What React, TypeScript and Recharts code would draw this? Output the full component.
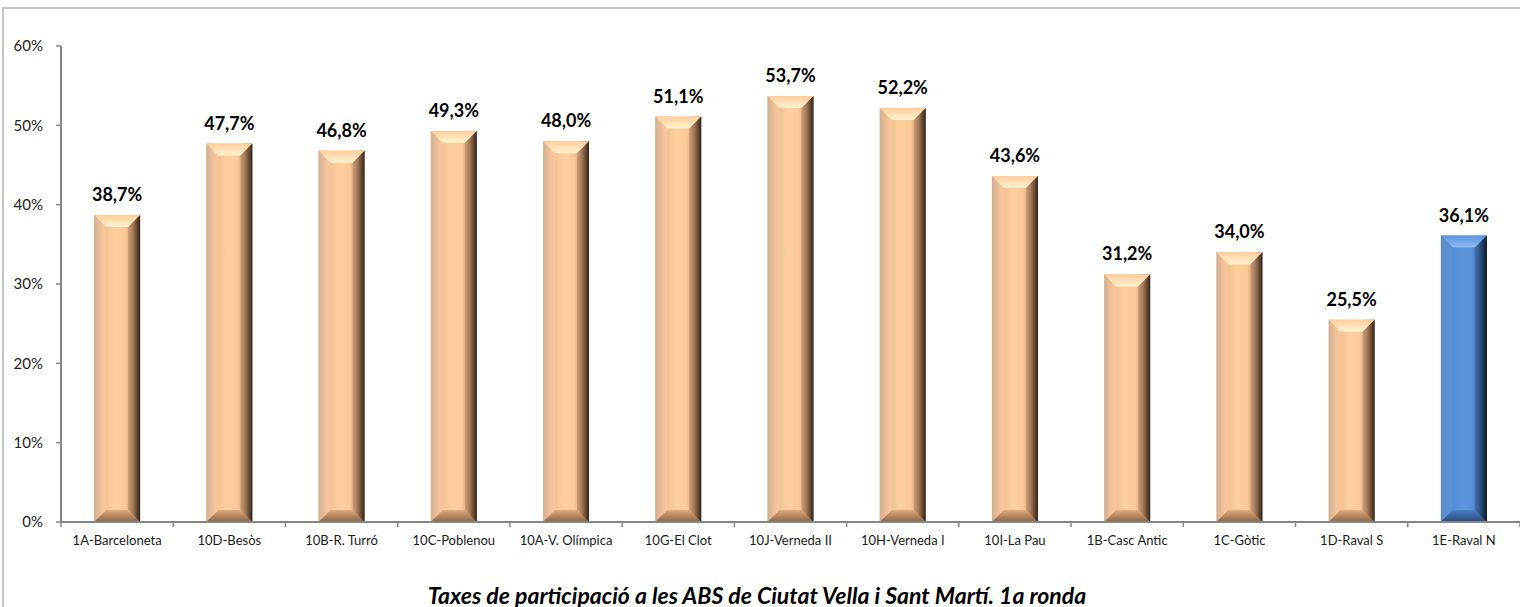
import React from "react";
import { BarChart, Bar, XAxis, YAxis, LabelList } from "recharts";

const areas = [
  "1A-Barceloneta",
  "10D-Besòs",
  "10B-R. Turró",
  "10C-Poblenou",
  "10A-V. Olímpica",
  "10G-El Clot",
  "10J-Verneda II",
  "10H-Verneda I",
  "10I-La Pau",
  "1B-Casc Antic",
  "1C-Gòtic",
  "1D-Raval S",
  "1E-Raval N",
];

const participation = [38.7, 47.7, 46.8, 49.3, 48.0, 51.1, 53.7, 52.2, 43.6, 31.2, 34.0, 25.5, 36.1];

const yTicks = [0, 10, 20, 30, 40, 50, 60];
const edgeTicks = [0, 1, 2, 3, 4, 5, 6, 7, 8, 9, 10, 11, 12, 13];
const highlighted = "1E-Raval N";

const data = areas.map((name, i) => ({ name, value: participation[i], pos: i + 0.5 }));

const FONT = "Lato, 'Open Sans', sans-serif";

const fmt = (v: number) => v.toFixed(1).replace(".", ",") + "%";

function BevelBar(props: any) {
  const { x, y, width, height, payload } = props;
  if (!height || height <= 0) return null;
  const blue = payload && payload.name === highlighted;
  const p = blue ? "b" : "o";
  const b = Math.min(12, width / 3, height / 2);
  return (
    <g>
      <rect x={x} y={y} width={width} height={height} fill={`url(#side-${p})`} />
      <polygon
        points={`${x},${y} ${x + width},${y} ${x + width - b},${y + b} ${x + b},${y + b}`}
        fill={`url(#top-${p})`}
      />
      <polygon
        points={`${x},${y} ${x + b},${y + b} ${x + b},${y + height - b} ${x},${y + height}`}
        fill={`url(#lside-${p})`}
        opacity={0.35}
      />
      <polygon
        points={`${x + width},${y} ${x + width - b},${y + b} ${x + width - b},${y + height - b} ${x + width},${y + height}`}
        fill={`url(#rside-${p})`}
        opacity={0.45}
      />
      <polygon
        points={`${x + b},${y + height - b} ${x + width - b},${y + height - b} ${x + width},${y + height} ${x},${y + height}`}
        fill={`url(#bot-${p})`}
      />
    </g>
  );
}

const NoLabel = () => <g />;

export default function App() {
  return (
    <div style={{ position: "relative", width: 1520, height: 607, overflow: "hidden", background: "#fff" }}>
      <style>{"body{margin:0}"}</style>
      <div
        style={{
          position: "absolute",
          left: 2,
          top: 7,
          width: 1560,
          height: 700,
          border: "2px solid #c4c4c4",
          boxSizing: "border-box",
        }}
      />
      <div style={{ position: "absolute", left: 0, top: 0 }}>
        <BarChart
          width={1520}
          height={607}
          data={data}
          margin={{ top: 46, right: 0, bottom: 54, left: 0 }}
          barCategoryGap="29.5%"
        >
          <defs>
            <linearGradient id="side-o" x1="0" y1="0" x2="1" y2="0">
              <stop offset="0" stopColor="#b88c6c" />
              <stop offset="0.18" stopColor="#efb990" />
              <stop offset="0.45" stopColor="#ffd09f" />
              <stop offset="0.68" stopColor="#fcc898" />
              <stop offset="0.84" stopColor="#c8966e" />
              <stop offset="1" stopColor="#3a2818" />
            </linearGradient>
            <linearGradient id="top-o" x1="0" y1="0" x2="0" y2="1">
              <stop offset="0" stopColor="#ffcc9c" />
              <stop offset="1" stopColor="#fff4cc" />
            </linearGradient>
            <linearGradient id="lside-o" x1="0" y1="0" x2="1" y2="0">
              <stop offset="0" stopColor="#fff0d0" />
              <stop offset="1" stopColor="#ffd0a0" />
            </linearGradient>
            <linearGradient id="rside-o" x1="0" y1="0" x2="1" y2="0">
              <stop offset="0" stopColor="#b08060" />
              <stop offset="1" stopColor="#2a1c10" />
            </linearGradient>
            <linearGradient id="bot-o" x1="0" y1="0" x2="0" y2="1">
              <stop offset="0" stopColor="#e4aa7c" />
              <stop offset="1" stopColor="#8c6444" />
            </linearGradient>

            <linearGradient id="side-b" x1="0" y1="0" x2="1" y2="0">
              <stop offset="0" stopColor="#3c6cac" />
              <stop offset="0.18" stopColor="#4f86cc" />
              <stop offset="0.45" stopColor="#5c96de" />
              <stop offset="0.68" stopColor="#5790d8" />
              <stop offset="0.84" stopColor="#3a6aa6" />
              <stop offset="1" stopColor="#0c1c30" />
            </linearGradient>
            <linearGradient id="top-b" x1="0" y1="0" x2="0" y2="1">
              <stop offset="0" stopColor="#5a94dc" />
              <stop offset="1" stopColor="#8ebcf2" />
            </linearGradient>
            <linearGradient id="lside-b" x1="0" y1="0" x2="1" y2="0">
              <stop offset="0" stopColor="#9cc4f4" />
              <stop offset="1" stopColor="#5c96de" />
            </linearGradient>
            <linearGradient id="rside-b" x1="0" y1="0" x2="1" y2="0">
              <stop offset="0" stopColor="#305a90" />
              <stop offset="1" stopColor="#08121e" />
            </linearGradient>
            <linearGradient id="bot-b" x1="0" y1="0" x2="0" y2="1">
              <stop offset="0" stopColor="#4a80c4" />
              <stop offset="1" stopColor="#264a78" />
            </linearGradient>
          </defs>
          <XAxis
            xAxisId="cat"
            dataKey="name"
            height={30}
            axisLine={false}
            tickLine={false}
            interval={0}
            tickMargin={7}
            tick={{ fill: "#1a1a1a", fontSize: 13, fontFamily: FONT }}
          />
          <XAxis
            xAxisId="axEdge"
            dataKey="pos"
            type="number"
            domain={[0, 13]}
            ticks={edgeTicks}
            interval={0}
            allowDataOverflow
            height={1}
            tick={<NoLabel />}
            tickSize={5}
            axisLine={{ stroke: "#868686", strokeWidth: 2 }}
            tickLine={{ stroke: "#868686", strokeWidth: 1.5 }}
          />
          <YAxis
            width={61}
            domain={[0, 60]}
            ticks={yTicks}
            tickFormatter={(v: number) => `${v}%`}
            tickSize={5}
            tickMargin={13}
            axisLine={{ stroke: "#868686", strokeWidth: 2 }}
            tickLine={{ stroke: "#868686", strokeWidth: 1.5 }}
            tick={{ fill: "#222", fontSize: 15, fontFamily: FONT }}
          />
          <Bar dataKey="value" xAxisId="cat" shape={<BevelBar />} isAnimationActive={false}>
            <LabelList
              dataKey="value"
              position="top"
              offset={14}
              formatter={(v: any) => fmt(Number(v))}
              style={{ fill: "#000", fontSize: 18, fontWeight: 700, fontFamily: FONT }}
            />
          </Bar>
        </BarChart>
      </div>
      <div
        style={{
          position: "absolute",
          left: 0,
          width: 1514,
          top: 581,
          textAlign: "center",
          fontFamily: FONT,
          fontWeight: 700,
          fontStyle: "italic",
          fontSize: 23,
          color: "#000",
          whiteSpace: "nowrap",
        }}
      >
        Taxes de participació a les ABS de Ciutat Vella i Sant Martí. 1a ronda
      </div>
    </div>
  );
}
